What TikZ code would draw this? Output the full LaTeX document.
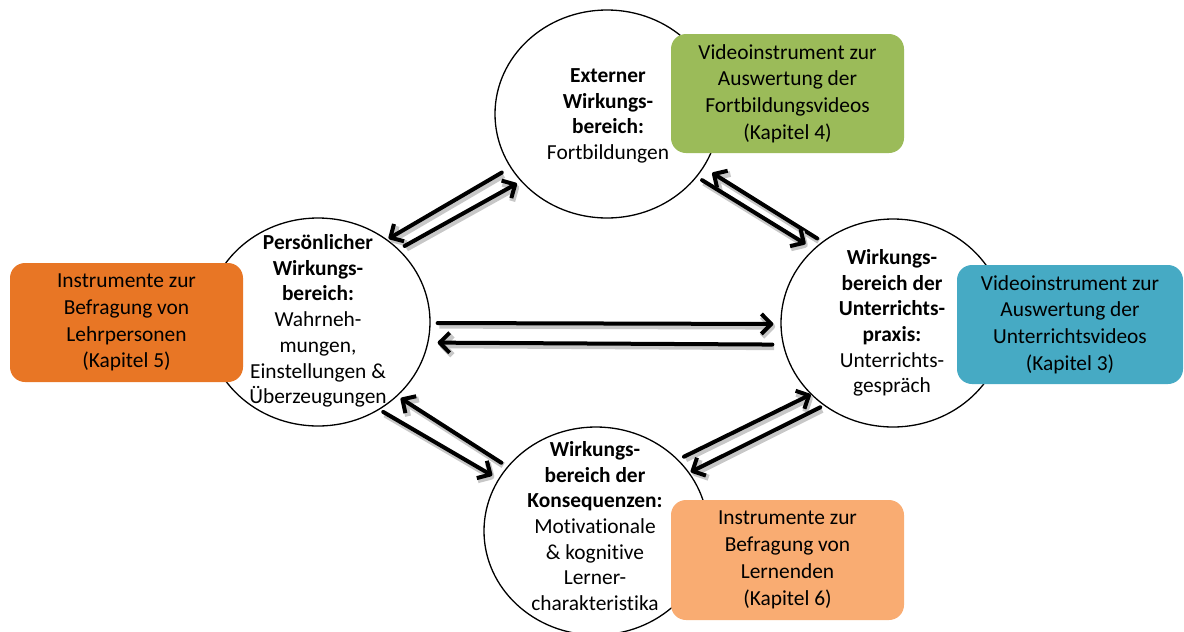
\documentclass[tikz,border=0pt]{standalone}
\usepackage{fontspec}
\setmainfont{Carlito}[Ligatures={NoCommon}]
\usetikzlibrary{arrows.meta,shapes.geometric}
\definecolor{cgreen}{RGB}{155,187,89}
\definecolor{corange}{RGB}{232,118,37}
\definecolor{cteal}{RGB}{70,170,196}
\definecolor{clight}{RGB}{249,172,114}
\begin{document}
\begin{tikzpicture}[x=0.5pt,y=-0.5pt,
  area/.style={ellipse, draw, line width=0.65pt, fill=white, minimum width=112pt, minimum height=104pt, inner sep=0pt},
  areatext/.style={align=center, inner sep=0pt, font=\fontsize{10.7}{12.85}\selectfont},
  box/.style={rounded corners=7.5pt, minimum width=116.5pt, minimum height=59.5pt, inner sep=0pt, align=center, font=\fontsize{10.7}{13.4}\selectfont},
  arr/.style={line width=2pt, line cap=round, -{Straight Barb[length=5pt,width=10pt,line join=round]},
    preaction={draw=black!22, line width=3pt, transform canvas={shift={(0.9pt,-1.3pt)}}}}]
\useasboundingbox (0,0) rectangle (1184,632);

% areas
\node[area] (T) at (607,114) {};
\node[area] (L) at (318,322) {};
\node[area] (R) at (893,323) {};
\node[area] (B) at (596,531) {};

\node[areatext] (Ttx) at (608,116) {\textbf{Externer}\\\textbf{Wirkungs-}\\\textbf{bereich:}\\Fortbildungen};
\node[areatext] (Ltx) at (318,321) {\textbf{Persönlicher}\\\textbf{Wirkungs-}\\\textbf{bereich:}\\Wahrneh-\\mungen,\\Einstellungen \&\\Überzeugungen};
\node[areatext] (Rtx) at (892,323) {\textbf{Wirkungs-}\\\textbf{bereich der}\\\textbf{Unterrichts-}\\\textbf{praxis:}\\Unterrichts-\\gespräch};
\node[areatext] (Btx) at (595,526) {\textbf{Wirkungs-}\\\textbf{bereich der}\\\textbf{Konsequenzen:}\\Motivationale\\\& kognitive\\Lerner-\\charakteristika};

% instrument boxes
\node[box, fill=cgreen] (G) at (787.5,93.5) {Videoinstrument zur\\Auswertung der\\Fortbildungsvideos\\(Kapitel 4)};
\node[box, fill=corange] (O) at (126.5,322.5) {Instrumente zur\\Befragung von\\Lehrpersonen\\(Kapitel 5)};
\node[box, fill=cteal, minimum width=113pt] (C) at (1070,324.5) {Videoinstrument zur\\Auswertung der\\Unterrichtsvideos\\(Kapitel 3)};
\node[box, fill=clight, minimum height=60pt] (P) at (787.5,560) {Instrumente zur\\Befragung von\\Lernenden\\(Kapitel 6)};

% arrows
\draw[arr, shorten <=4.9pt, shorten >=0.8pt] (T.209.6) -- (L.50.6);
\draw[arr, shorten <=3.3pt, shorten >=2.2pt] (L.42.2) -- (T.218.2);
\draw[arr, shorten <=3pt, shorten >=5pt] (R.131.4) -- (T.331.3);
\draw[arr, shorten <=3pt, shorten >=4.7pt] (T.325.6) -- (R.137.1);
\draw[arr, shorten <=3.5pt, shorten >=3.5pt] ([yshift=-0.5pt]L.east) -- ([yshift=-0.5pt]R.west);
\draw[arr, shorten <=4pt, shorten >=3.5pt] ([yshift=-10.8pt]R.west) -- ([yshift=-10.3pt]L.east);
\draw[arr, shorten <=3.5pt, shorten >=1.9pt] (B.144.1) -- (L.317.2);
\draw[arr, shorten <=2.2pt, shorten >=3.5pt] (L.305.8) -- (B.152.6);
\draw[arr, shorten <=3.2pt, shorten >=0pt] (B.41.5) -- (R.221.6);
\draw[arr, shorten <=1.9pt, shorten >=0.7pt] (R.230.1) -- (B.32.1);
\end{tikzpicture}
\end{document}
